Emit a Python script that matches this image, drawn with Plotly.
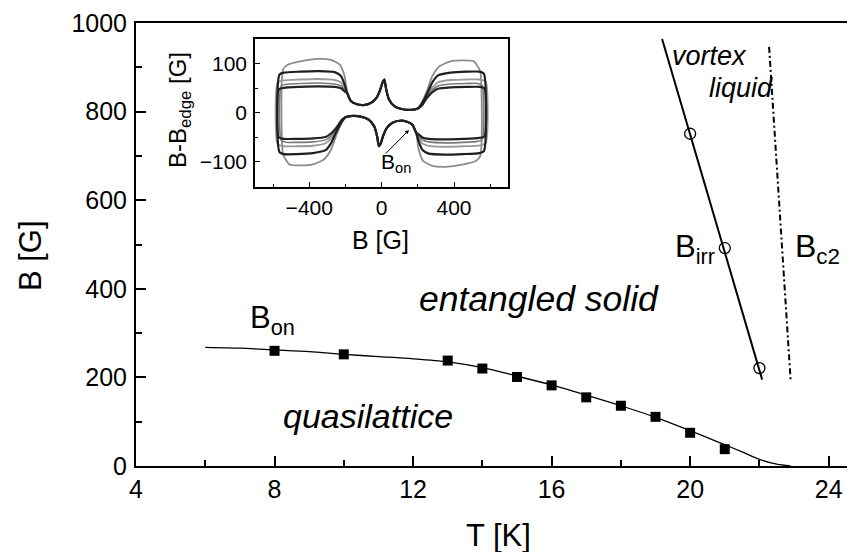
import plotly.graph_objects as go

# ---------------- main panel data ----------------
bon_T = [8, 10, 13, 14, 15, 16, 17, 18, 19, 20, 21]
bon_B = [260, 252, 238, 220, 201, 182, 155, 136, 111, 75, 38]

bon_fit_T = [6, 7, 8, 9, 10, 11, 12, 13, 14, 15, 16, 17, 18, 19, 20, 21, 21.5, 22, 22.5, 22.9]
bon_fit_B = [268, 266, 262, 258, 252, 247, 242, 235, 222, 203, 183, 160, 136, 110, 80, 48, 32, 15, 4, 0]

birr_T = [20, 21, 22]
birr_B = [750, 492, 221]

birr_line_T = [19.19, 22.08]
birr_line_B = [964, 195]

bc2_line_T = [22.28, 22.90]
bc2_line_B = [946, 195]

x_ticks = [4, 8, 12, 16, 20, 24]
y_ticks = [0, 200, 400, 600, 800, 1000]

# ---------------- inset data (hysteresis loops) ----------------
center_up_B = [-190, -170, -140, -100, -60, -30, -10, 5, 15, 25, 40, 70, 110, 160, 200]
center_up_dB = [40, 24, 18, 16, 20, 30, 45, 62, 68, 48, 28, 14, 8, 6, 9]
center_dn_B = [190, 170, 140, 100, 60, 30, 10, -5, -15, -25, -40, -70, -110, -160, -200]
center_dn_dB = [-40, -24, -18, -16, -20, -30, -45, -62, -68, -48, -28, -14, -8, -6, -9]

# loop A (outer, grey)
a_upl_B = [-545, -545, -520, -450, -350, -280, -230, -205]
a_upl_dB = [-85, 88, 98, 105, 110, 108, 98, 75]
a_upr_B = [220, 250, 280, 320, 380, 450, 510, 530, 545]
a_upr_dB = [20, 45, 75, 95, 105, 107, 105, 95, 85]
a_dnr_B = [545, 520, 450, 350, 280, 230, 205]
a_dnr_dB = [-88, -98, -105, -110, -108, -98, -75]
a_dnl_B = [-220, -250, -280, -320, -380, -450, -510, -530, -545]
a_dnl_dB = [-20, -45, -75, -95, -105, -107, -105, -95, -85]

# loop B (black)
b_upl_B = [-565, -565, -540, -450, -350, -260, -225, -205]
b_upl_dB = [-80, 78, 82, 84, 85, 83, 75, 58]
b_upr_B = [220, 250, 280, 310, 380, 470, 540, 565]
b_upr_dB = [18, 38, 62, 76, 82, 84, 84, 80]
b_dnr_B = [565, 540, 450, 350, 260, 225, 205]
b_dnr_dB = [-78, -82, -84, -85, -83, -75, -58]
b_dnl_B = [-220, -250, -280, -310, -380, -470, -540, -565]
b_dnl_dB = [-18, -38, -62, -76, -82, -84, -84, -80]

# loop C (grey)
c_upl_B = [-575, -575, -545, -450, -350, -260, -225, -205]
c_upl_dB = [-64, 62, 66, 68, 69, 67, 62, 50]
c_upr_B = [220, 250, 280, 310, 380, 470, 545, 575]
c_upr_dB = [16, 34, 52, 62, 67, 68, 68, 64]
c_dnr_B = [575, 545, 450, 350, 260, 225, 205]
c_dnr_dB = [-62, -66, -68, -69, -67, -62, -50]
c_dnl_B = [-220, -250, -280, -310, -380, -470, -545, -575]
c_dnl_dB = [-16, -34, -52, -62, -67, -68, -68, -64]

# loop D (grey)
d_upl_B = [-555, -555, -530, -450, -350, -260, -225, -205]
d_upl_dB = [-56, 55, 58, 60, 61, 59, 55, 46]
d_upr_B = [220, 250, 280, 310, 380, 470, 530, 555]
d_upr_dB = [15, 32, 47, 55, 59, 60, 60, 56]
d_dnr_B = [555, 530, 450, 350, 260, 225, 205]
d_dnr_dB = [-55, -58, -60, -61, -59, -55, -46]
d_dnl_B = [-220, -250, -280, -310, -380, -470, -530, -555]
d_dnl_dB = [-15, -32, -47, -55, -59, -60, -60, -56]

# loop E (black, inner)
e_upl_B = [-568, -568, -540, -450, -350, -260, -225, -205]
e_upl_dB = [-50, 48, 51, 53, 54, 53, 50, 44]
e_upr_B = [220, 250, 280, 310, 380, 470, 540, 568]
e_upr_dB = [14, 30, 42, 49, 52, 53, 53, 50]
e_dnr_B = [568, 540, 450, 350, 260, 225, 205]
e_dnr_dB = [-48, -51, -53, -54, -53, -50, -44]
e_dnl_B = [-220, -250, -280, -310, -380, -470, -540, -568]
e_dnl_dB = [-14, -30, -42, -49, -52, -53, -53, -50]

loops = [
    (a_upl_B, a_upl_dB, a_upr_B, a_upr_dB, a_dnr_B, a_dnr_dB, a_dnl_B, a_dnl_dB, "#8c8c8c", 1.8),
    (c_upl_B, c_upl_dB, c_upr_B, c_upr_dB, c_dnr_B, c_dnr_dB, c_dnl_B, c_dnl_dB, "#9a9a9a", 1.8),
    (d_upl_B, d_upl_dB, d_upr_B, d_upr_dB, d_dnr_B, d_dnr_dB, d_dnl_B, d_dnl_dB, "#7a7a7a", 1.6),
    (b_upl_B, b_upl_dB, b_upr_B, b_upr_dB, b_dnr_B, b_dnr_dB, b_dnl_B, b_dnl_dB, "#1e1e1e", 2.2),
    (e_upl_B, e_upl_dB, e_upr_B, e_upr_dB, e_dnr_B, e_dnr_dB, e_dnl_B, e_dnl_dB, "#222222", 2.2),
]

FONT = "Liberation Sans, Arial, Helvetica, sans-serif"

fig = go.Figure()

# inset loops
for (ulB, uld, urB, urd, drB, drd, dlB, dld, col, w) in loops:
    xs = ulB + center_up_B + urB + drB + center_dn_B + dlB
    ys = uld + center_up_dB + urd + drd + center_dn_dB + dld
    fig.add_trace(go.Scatter(x=xs, y=ys, mode="lines", xaxis="x2", yaxis="y2",
                             line=dict(color=col, width=w, shape="spline", smoothing=0.6),
                             showlegend=False, hoverinfo="skip"))

# main panel
fig.add_trace(go.Scatter(x=bon_fit_T, y=bon_fit_B, mode="lines",
                         line=dict(color="black", width=1.3, shape="spline", smoothing=0.8),
                         showlegend=False))
fig.add_trace(go.Scatter(x=bon_T, y=bon_B, mode="markers",
                         marker=dict(symbol="square", size=10, color="black"),
                         showlegend=False))
fig.add_trace(go.Scatter(x=birr_line_T, y=birr_line_B, mode="lines",
                         line=dict(color="black", width=2), showlegend=False))
fig.add_trace(go.Scatter(x=birr_T, y=birr_B, mode="markers",
                         marker=dict(symbol="circle-open", size=11, color="black", line=dict(width=1.3)),
                         showlegend=False))
fig.add_trace(go.Scatter(x=bc2_line_T, y=bc2_line_B, mode="lines",
                         line=dict(color="black", width=2, dash="6px,3px,2px,3px"),
                         showlegend=False))

axis_common = dict(showgrid=False, zeroline=False, showline=True, linecolor="black",
                   ticks="inside", tickcolor="black", automargin=False)

# the page body adds an 8px offset, so the figure is 8px smaller and margins shifted
fig.update_layout(
    template="none",
    width=847, height=544,
    margin=dict(l=128, r=0, t=15, b=86, pad=0),
    paper_bgcolor="white", plot_bgcolor="white",
    font=dict(family=FONT, color="black"),
    xaxis=dict(range=[4, 24.76], tickvals=x_ticks, ticklen=10, tickwidth=1.5, linewidth=2,
               mirror=True, tickfont=dict(size=25), ticklabelstandoff=0,
               minor=dict(dtick=2, ticks="inside", ticklen=6, tickwidth=1.5, tickcolor="black"),
               **axis_common),
    yaxis=dict(range=[0, 1000], tickvals=y_ticks, ticklen=10, tickwidth=1.5, linewidth=2,
               mirror=False, tickfont=dict(size=25), ticklabelstandoff=2,
               minor=dict(dtick=100, ticks="inside", ticklen=6, tickwidth=1.5, tickcolor="black"),
               **axis_common),
    xaxis2=dict(domain=[0.1655, 0.5178], anchor="y2", range=[-700, 700],
                tickvals=[-400, 0, 400], ticklen=5, tickwidth=1, linewidth=1.5, mirror=True,
                tickfont=dict(size=21), ticklabelstandoff=2,
                minor=dict(dtick=200, ticks="inside", ticklen=3, tickwidth=1, tickcolor="black"),
                **axis_common),
    yaxis2=dict(domain=[0.6309, 0.9633], anchor="x2", range=[-150, 150],
                tickvals=[-100, 0, 100], ticklen=5, tickwidth=1, linewidth=1.5, mirror=True,
                tickfont=dict(size=21), ticklabelstandoff=2,
                minor=dict(dtick=50, ticks="inside", ticklen=3, tickwidth=1, tickcolor="black"),
                **axis_common),
)

ann = []
# axis titles
ann.append(dict(text="T [K]", xref="paper", yref="paper", x=0.5035, y=-0.1558,
                showarrow=False, font=dict(size=31), xanchor="center", yanchor="middle"))
ann.append(dict(text="B [G]", xref="paper", yref="paper", x=-0.1474, y=0.474, textangle=-90,
                showarrow=False, font=dict(size=31), xanchor="center", yanchor="middle"))
ann.append(dict(text="B [G]", xref="paper", yref="paper", x=0.3394, y=0.5102,
                showarrow=False, font=dict(size=25), xanchor="center", yanchor="middle"))
ann.append(dict(text="B-B<sub>edge</sub> [G]", xref="paper", yref="paper", x=0.0598, y=0.8036,
                textangle=-90, showarrow=False, font=dict(size=24), xanchor="center", yanchor="middle"))
# main labels
ann.append(dict(text="B<sub>on</sub>", x=7.23, y=330, xref="x", yref="y", showarrow=False,
                font=dict(size=31), xanchor="left", yanchor="middle"))
ann.append(dict(text="<i>entangled solid</i>", x=15.64, y=377, xref="x", yref="y", showarrow=False,
                font=dict(size=35.5), xanchor="center", yanchor="middle"))
ann.append(dict(text="<i>quasilattice</i>", x=10.70, y=112, xref="x", yref="y", showarrow=False,
                font=dict(size=34), xanchor="center", yanchor="middle"))
ann.append(dict(text="<i>vortex</i>", x=19.42, y=925, xref="x", yref="y", showarrow=False,
                font=dict(size=27), xanchor="left", yanchor="middle"))
ann.append(dict(text="<i>liquid</i>", x=20.49, y=853, xref="x", yref="y", showarrow=False,
                font=dict(size=27), xanchor="left", yanchor="middle"))
ann.append(dict(text="B<sub>irr</sub>", x=19.51, y=490, xref="x", yref="y", showarrow=False,
                font=dict(size=31), xanchor="left", yanchor="middle"))
ann.append(dict(text="B<sub>c2</sub>", x=22.97, y=490, xref="x", yref="y", showarrow=False,
                font=dict(size=32), xanchor="left", yanchor="middle"))
# inset labels
ann.append(dict(text="B<sub>on</sub>", x=-14, y=-102, xref="x2", yref="y2", showarrow=False,
                font=dict(size=21), xanchor="left", yanchor="middle"))
ann.append(dict(text="", x=151, y=-35, xref="x2", yref="y2", ax=14, ay=-86,
                axref="x2", ayref="y2", showarrow=True, arrowhead=2, arrowsize=0.8,
                arrowwidth=1, arrowcolor="black"))
fig.update_layout(annotations=ann)

fig.write_html("out.html")
